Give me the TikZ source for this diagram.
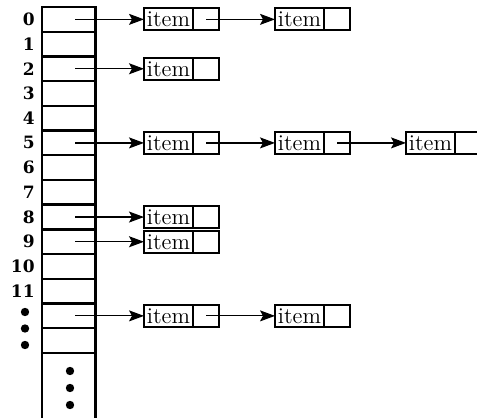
\documentclass[tikz,border=0pt]{standalone}
\usepackage{fontspec}
\newfontfamily\lblfont{DejaVu Serif}
\usetikzlibrary{arrows.meta}
\begin{document}
\begin{tikzpicture}[x=0.5pt,y=-0.5pt,
  cell/.style={draw,line width=1.2pt,minimum width=26.75pt,minimum height=12.36pt,inner sep=0pt,outer sep=0pt},
  lbl/.style={anchor=east,font=\lblfont\bfseries\fontsize{8.5}{10}\selectfont,inner sep=0pt},
  itemtxt/.style={draw,line width=1.1pt,minimum width=24.5pt,minimum height=11pt,inner sep=0pt,outer sep=0pt,anchor=west,font=\fontsize{11.3}{12}\selectfont},
  ptr/.style={draw,line width=1.1pt,minimum width=13pt,minimum height=11pt,inner sep=0pt,outer sep=0pt,anchor=west},
  link/.style={line width=0.6pt,-{Stealth[length=7.5pt,width=5.5pt,inset=1.5pt]}},
  wall/.style={line width=1.2pt}
]
\useasboundingbox (0,0) rectangle (477,418);
% array cells
\foreach \i in {0,...,13}{
  \node[cell] (c\i) at (68.75,{19.36+24.71*\i}) {};
  \coordinate (s\i) at (75,{19.36+24.71*\i});
}
\foreach \i in {0,...,11}{
  \node[lbl] (l\i) at (35,{19.36+24.71*\i}) {\i};
}
% open bottom part
\draw[wall] (c13.south west) -- ++(0,80);
\draw[wall] (c13.south east) -- ++(0,80);
% dots
\foreach \yy in {312,328.5,345} \fill (25,\yy) circle (2.1pt);
\foreach \yy in {371,388,405} \fill (70,\yy) circle (2.1pt);
% items
\foreach \r/\n in {0/2,2/1,5/3,8/1,9/1,12/2}{
  \foreach \k in {1,...,\n}{
    \node[itemtxt] (i-\r-\k) at ({144+131*(\k-1)},{19.36+24.71*\r}) {item};
    \node[ptr] (p-\r-\k) at (i-\r-\k.east) {};
  }
  \draw[link] (s\r) -- (i-\r-1.west);
}
\draw[link] (p-0-1.center) -- (i-0-2.west);
\draw[link] (p-5-1.center) -- (i-5-2.west);
\draw[link] (p-5-2.center) -- (i-5-3.west);
\draw[link] (p-12-1.center) -- (i-12-2.west);
\end{tikzpicture}
\end{document}
